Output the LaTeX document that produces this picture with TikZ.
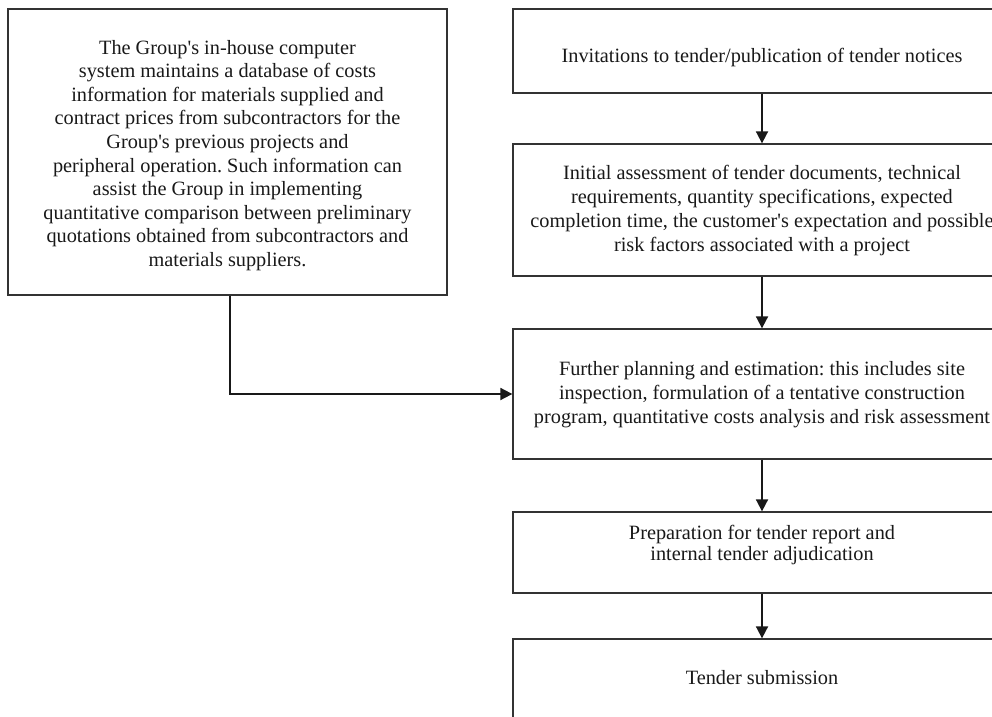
\documentclass[tikz,border=0pt]{standalone}
\usepackage{fontspec}
\setmainfont{Liberation Serif}
\usetikzlibrary{arrows.meta}
\newcommand{\qs}{\textquotesingle}
\begin{document}
\frenchspacing
\begin{tikzpicture}[x=1bp,y=-1bp,
  box/.style={draw=black!80, line width=1.3bp, rectangle, inner sep=0pt},
  txt/.style={align=center, inner sep=0pt,
    font=\fontsize{20.3bp}{23.9bp}\selectfont, text=black!90},
  flow/.style={draw=black!90, line width=1.8bp, -{Triangle[length=12bp,width=12bp]}}]
\useasboundingbox (0,0) rectangle (992,717);
\clip (0,0) rectangle (992,717);
\fill[white] (0,0) rectangle (992,717);
% boxes
\node[box, minimum width=439bp, minimum height=286bp] (L) at (227.5,152) {};
\node[box, minimum width=498bp, minimum height=84bp] (b1) at (762,51) {};
\node[box, minimum width=498bp, minimum height=132bp] (b2) at (762,210) {};
\node[box, minimum width=498bp, minimum height=130bp] (b3) at (762,394) {};
\node[box, minimum width=498bp, minimum height=81bp] (b4) at (762,552.5) {};
\node[box, minimum width=498bp, minimum height=84bp] (b5) at (762,681) {};
% texts
\node[txt, font=\fontsize{20.3bp}{23.6bp}\selectfont] (tL) at (227.5,155.5)
 {The Group\qs s in-house computer\\ system maintains a database of costs\\ information for materials supplied and\\ contract prices from subcontractors for the\\ Group\qs s previous projects and\\ peripheral operation. Such information can\\ assist the Group in implementing\\ quantitative comparison between preliminary\\ quotations obtained from subcontractors and\\ materials suppliers.};
\node[txt] (t1) at (762,57.5)
 {Invitations to tender/publication of tender notices};
\node[txt, font=\fontsize{20.3bp}{24.3bp}\selectfont] (t2) at (762,210.5)
 {Initial assessment of tender documents, technical\\ requirements, quantity specifications, expected\\ completion time, the customer\qs s expectation and possible\\ risk factors associated with a project};
\node[txt] (t3) at (762,394.5)
 {Further planning and estimation: this includes site\\ inspection, formulation of a tentative construction\\ program, quantitative costs analysis and risk assessment};
\node[txt, font=\fontsize{20.3bp}{21bp}\selectfont] (t4) at (762,545)
 {Preparation for tender report and\\ internal tender adjudication};
\node[txt] (t5) at (762,678)
 {Tender submission};
% connectors
\draw[flow] (b1.south) -- (b2.north);
\draw[flow] (b2.south) -- (b3.north);
\draw[flow] (b3.south) -- (b4.north);
\draw[flow] (b4.south) -- (b5.north);
\draw[flow] ([xshift=2.5bp]L.south) |- (b3.west);
\end{tikzpicture}
\end{document}
